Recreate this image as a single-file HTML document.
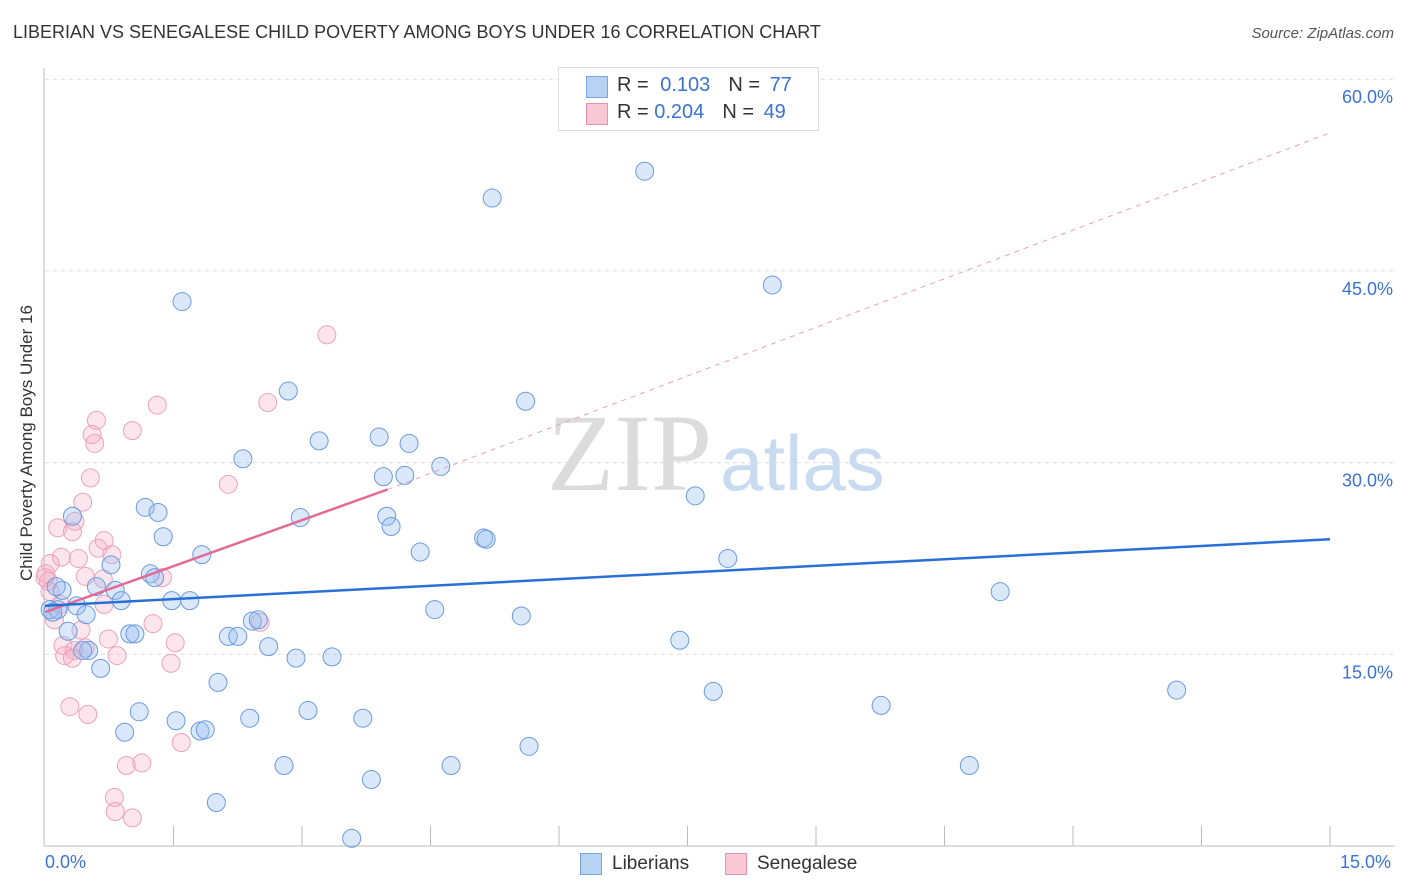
<!DOCTYPE html>
<html><head><meta charset="utf-8"><style>
body{margin:0;background:#fff;font-family:"Liberation Sans",sans-serif;}
#wrap{position:relative;width:1406px;height:892px;overflow:hidden;}
.t{position:absolute;white-space:nowrap;}
</style></head><body>
<div id="wrap">
<div class="t" style="left:13px;top:22px;font-size:18px;color:#333;">LIBERIAN VS SENEGALESE CHILD POVERTY AMONG BOYS UNDER 16 CORRELATION CHART</div>
<div class="t" style="right:12px;top:25px;font-size:15px;color:#555;font-style:italic;">Source: ZipAtlas.com</div>
<div class="t" style="left:-88px;top:446px;font-size:17px;color:#333;transform:rotate(-90deg);width:230px;text-align:center;margin-top:10px;">Child Poverty Among Boys Under 16</div>
<svg id="svg" width="1406" height="892" style="position:absolute;left:0;top:0">
<text x="712" y="490" font-size="110" fill="#dcdcdc" font-family="Liberation Serif" text-anchor="end">ZIP</text>
<text x="720" y="490" font-size="78" fill="#c9dbf0" font-family="Liberation Sans">atlas</text>
<g id="grid"></g><g id="pts"></g><g id="lines"></g>
</svg>
<div style="position:absolute;left:558px;top:67px;width:259px;height:62px;border:1px solid #ddd;background:#fff;font-size:20px;">
 <div style="position:absolute;left:27px;top:8px;width:20px;height:20px;background:#b8d2f4;border:1px solid #7aa6e0;"></div>
 <div class="t" style="left:58px;top:6px;color:#333">R = <span style="color:#3b73d4;margin-left:6px">0.103</span><span style="margin-left:18px">N = </span><span style="color:#3b73d4;margin-left:4px">77</span></div>
 <div style="position:absolute;left:27px;top:35px;width:20px;height:20px;background:#f8c8d6;border:1px solid #e892ae;"></div>
 <div class="t" style="left:58px;top:33px;color:#333">R = <span style="color:#3b73d4;">0.204</span><span style="margin-left:18px">N = </span><span style="color:#3b73d4;margin-left:4px">49</span></div>
</div>
<div class="t" style="left:45px;top:852px;font-size:18px;color:#3b73d4">0.0%</div>
<div class="t" style="left:1340px;top:852px;font-size:18px;color:#3b73d4">15.0%</div>
<div style="position:absolute;left:580px;top:853px;width:20px;height:20px;background:#b8d2f4;border:1px solid #7aa6e0;"></div>
<div class="t" style="left:612px;top:853px;font-size:19px;color:#333">Liberians</div>
<div style="position:absolute;left:725px;top:853px;width:20px;height:20px;background:#f8c8d6;border:1px solid #e892ae;"></div>
<div class="t" style="left:757px;top:853px;font-size:19px;color:#333">Senegalese</div>
</div>
<script>
const yTicks=[15,30,45,60];
const yTickLabels=["15.0%","30.0%","45.0%","60.0%"];
const blueX=[7.00,5.22,8.49,1.60,2.84,5.61,3.20,3.90,4.25,2.31,4.62,3.95,4.20,7.59,0.32,1.17,1.32,2.98,3.99,4.04,1.38,5.12,5.15,1.83,4.38,7.97,0.77,1.23,1.28,0.60,0.82,0.20,0.13,11.15,1.48,1.69,0.89,0.37,0.06,0.15,0.48,4.55,5.56,2.42,2.49,0.99,1.05,2.14,2.25,0.27,7.41,2.61,0.51,0.44,2.93,3.35,0.65,2.02,7.80,9.76,13.21,1.10,1.53,3.07,2.39,3.71,1.81,1.87,0.93,5.65,2.79,4.74,10.79,3.81,2.00,3.58,0.09];
const blueY=[52.8,50.7,43.9,42.6,35.6,34.8,31.7,32.0,31.5,30.3,29.7,28.9,29.0,27.4,25.8,26.5,26.1,25.7,25.8,25.0,24.2,24.1,24.0,22.8,23.0,22.5,22.0,21.3,21.0,20.3,20.0,20.0,20.3,19.9,19.2,19.2,19.2,18.8,18.5,18.5,18.1,18.5,18.0,17.6,17.7,16.6,16.6,16.4,16.4,16.8,16.1,15.6,15.3,15.3,14.7,14.8,13.9,12.8,12.1,11.0,12.2,10.5,9.8,10.6,10.0,10.0,9.0,9.1,8.9,7.8,6.3,6.3,6.3,5.2,3.4,0.6,18.3];
const pinkX=[3.29,1.31,2.60,0.60,0.55,1.02,0.58,2.14,0.53,0.44,0.35,0.15,0.32,0.69,0.62,0.78,0.19,0.39,0.06,0.0,0.47,0.68,1.37,0.04,0.06,0.69,0.18,0.11,1.26,2.51,0.42,0.74,1.52,0.21,0.34,0.47,0.84,0.23,0.32,1.47,0.29,0.50,1.59,0.95,1.13,0.81,0.82,1.02,0.01];
const pinkY=[40.0,34.5,34.7,33.3,32.2,32.5,31.5,28.3,28.8,26.9,25.4,24.9,24.6,23.9,23.3,22.8,22.6,22.5,22.1,21.0,21.1,20.9,21.0,20.7,19.9,18.9,18.9,17.7,17.4,17.5,16.9,16.2,15.9,15.7,15.3,15.5,14.9,14.9,14.7,14.3,10.9,10.3,8.1,6.3,6.5,3.8,2.7,2.2,21.3];
const blueTrend=[0,18.8,15,24.0];
const pinkTrend=[0,18.3,4.0,27.9,15,55.8];
const X0=45,X1=1330,Y0=846,PX=(X1-X0)/15,PY=191.7/15;
const sx=v=>X0+v*PX, sy=v=>Y0-v*PY;
const NS="http://www.w3.org/2000/svg";
function mk(t,a,p){const e=document.createElementNS(NS,t);for(const k in a)e.setAttribute(k,a[k]);p.appendChild(e);return e;}
const grid=document.getElementById('grid');
yTicks.forEach((v,i)=>{
 const l=mk('line',{x1:45,x2:1395,y1:sy(v),y2:sy(v),stroke:'#ddd','stroke-dasharray':'4,4'},grid);
 
 
 const t=mk('text',{x:1393,y:sy(v)+24,'text-anchor':'end','font-size':18,fill:'#3b73d4'},grid);
 t.textContent=yTickLabels[i];
 
 
});
mk('line',{x1:44,x2:44,y1:68,y2:846,stroke:'#bbb'},grid);
mk('line',{x1:44,x2:1395,y1:846,y2:846,stroke:'#bbb'},grid);
for(let i=1;i<=10;i++){const x=sx(i*1.5);const l=mk('line',{x1:x,x2:x,y1:826,y2:846,stroke:'#bbb'},grid);
 
 }
const pts=document.getElementById('pts');
pinkX.forEach((v,i)=>{const c=mk('circle',{cx:sx(v),cy:sy(pinkY[i]),r:9,fill:'rgba(244,170,195,0.3)',stroke:'#eca2bb','stroke-width':1},pts);
 
 });
blueX.forEach((v,i)=>{const c=mk('circle',{cx:sx(v),cy:sy(blueY[i]),r:9,fill:'rgba(150,190,240,0.35)',stroke:'#6a9be0','stroke-width':1},pts);
 
 });
const lines=document.getElementById('lines');
let l=mk('line',{x1:sx(pinkTrend[2]),y1:sy(pinkTrend[3]),x2:sx(pinkTrend[4]),y2:sy(pinkTrend[5]),stroke:'#e8a0b6','stroke-dasharray':'5,5','stroke-width':1},lines);


l=mk('line',{x1:sx(pinkTrend[0]),y1:sy(pinkTrend[1]),x2:sx(pinkTrend[2]),y2:sy(pinkTrend[3]),stroke:'#e46a94','stroke-width':2.5},lines);


l=mk('line',{x1:sx(blueTrend[0]),y1:sy(blueTrend[1]),x2:sx(blueTrend[2]),y2:sy(blueTrend[3]),stroke:'#2a6fd6','stroke-width':2.5},lines);


</script>
</body></html>
